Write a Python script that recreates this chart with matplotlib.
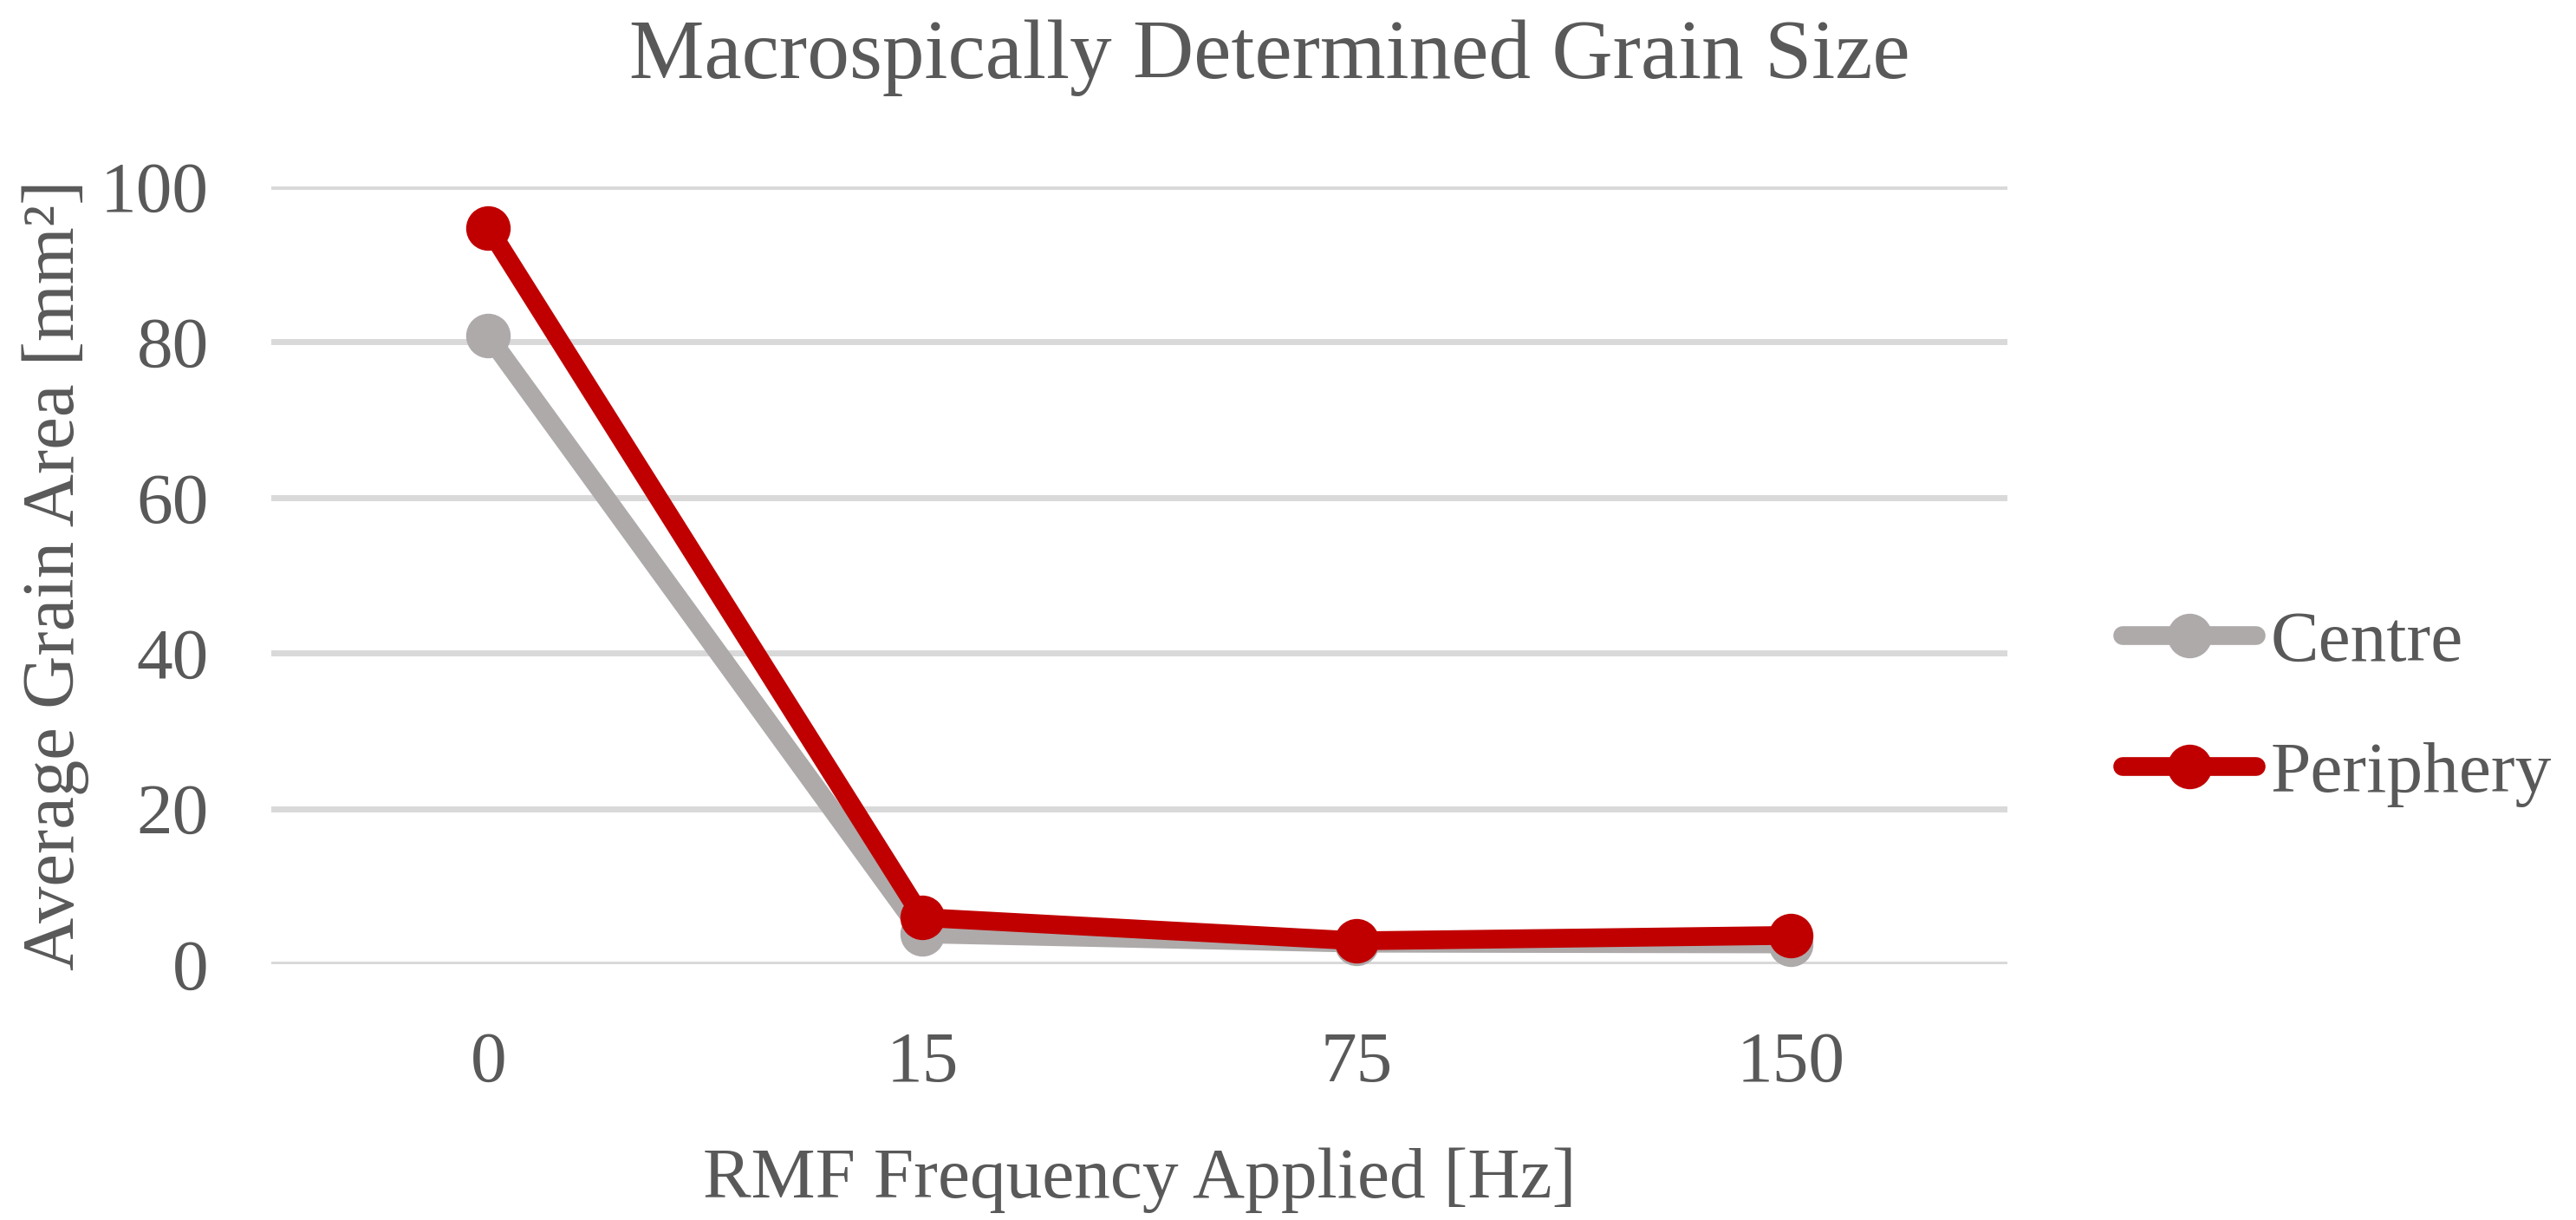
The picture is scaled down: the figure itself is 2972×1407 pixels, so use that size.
# Macrospically determined grain size - line chart
from matplotlib import pyplot as plt

# data
x_labels = ["0", "15", "75", "150"]
centre = [80.8, 3.9, 2.7, 2.6]
periphery = [94.7, 6.0, 3.0, 3.7]
y_ticks = [0, 20, 40, 60, 80, 100]

text_color = "#595959"
plt.rcParams['font.family'] = ['Liberation Serif', 'DejaVu Serif']

# figure size
fig = plt.figure(figsize=(14.86, 7.035), dpi=200)
ax = fig.add_axes([0.1053, 0.2097, 0.6740, 0.6375])

x = range(len(x_labels))
ax.plot(x, centre, color="#AEAAAA", linewidth=7.8, marker="o", markersize=17.5,
        solid_capstyle="round", label="Centre", clip_on=False, zorder=3)
ax.plot(x, periphery, color="#C00000", linewidth=7.8, marker="o", markersize=17.5,
        solid_capstyle="round", label="Periphery", clip_on=False, zorder=4)

# axes
ax.set_xlim(-0.5, len(x_labels) - 0.5)
ax.set_ylim(0, 100)
ax.set_xticks(list(x))
ax.set_xticklabels(x_labels)
ax.set_yticks(y_ticks)
ax.tick_params(axis="both", length=0, labelsize=30, labelcolor=text_color)
ax.tick_params(axis="x", pad=28)
ax.tick_params(axis="y", pad=26)
for s in ax.spines.values():
    s.set_visible(False)
ax.grid(axis="y", color="#D9D9D9", linewidth=2.5)
ax.set_axisbelow(True)

# labels
ax.set_xlabel("RMF Frequency Applied [Hz]", fontsize=30, color=text_color, labelpad=21)
ax.set_ylabel("Average Grain Area [mm²]", fontsize=30.5, color=text_color, labelpad=4.5)
fig.suptitle("Macrospically Determined Grain Size", x=0.493, y=0.984, fontsize=35,
             color=text_color)

# legend
ax.legend(loc="center left", bbox_to_anchor=(0.824, 0.419), bbox_transform=fig.transFigure,
          frameon=False, fontsize=30, labelcolor=text_color, handlelength=1.85,
          handletextpad=0.2, labelspacing=0.9, borderpad=0, borderaxespad=0)

plt.savefig("out.png")
